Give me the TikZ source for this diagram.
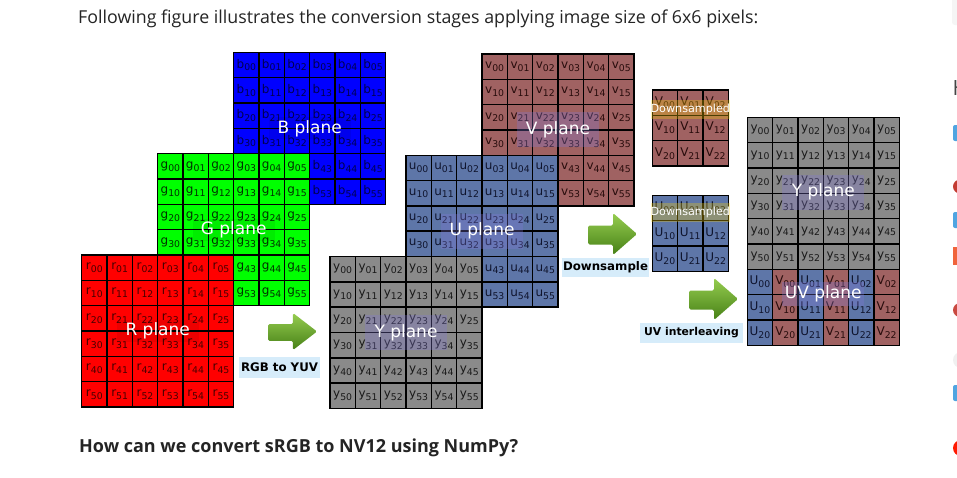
\documentclass[tikz,border=0pt]{standalone}
\usepackage{fontspec}
\setmainfont{DejaVu Sans}
\newfontfamily\webfont{Open Sans}
\usetikzlibrary{shadings}
\definecolor{rcol}{RGB}{255,0,0}
\definecolor{gcol}{RGB}{0,255,0}
\definecolor{bcol}{RGB}{0,0,255}
\definecolor{ycol}{RGB}{138,138,138}
\definecolor{ucol}{RGB}{94,118,168}
\definecolor{vcol}{RGB}{160,98,98}
\definecolor{rtxt}{RGB}{70,0,0}
\definecolor{gtxt}{RGB}{0,50,0}
\definecolor{btxt}{RGB}{0,0,80}
\definecolor{ytxt}{RGB}{25,25,25}
\definecolor{utxt}{RGB}{15,20,45}
\definecolor{vtxt}{RGB}{40,12,12}
\definecolor{lblfill}{RGB}{130,120,215}
\definecolor{lblbg}{RGB}{214,236,250}
\definecolor{webtxt}{RGB}{36,36,36}
\definecolor{arrtop}{RGB}{150,205,80}
\definecolor{arrbot}{RGB}{70,128,22}
\definecolor{uiblue}{RGB}{80,165,225}
\definecolor{uired}{RGB}{195,60,50}
\definecolor{uiorange}{RGB}{240,100,60}
\newcommand{\celltxt}[2]{{\fontsize{12}{12}\selectfont #1}\raisebox{-2.8pt}{\fontsize{9.3}{9.3}\selectfont #2}}
\newcommand{\drawplane}[8]{%
  \foreach \i in {0,...,#5}{\foreach \j in {0,...,#4}{%
    \node[cell, fill=#6, text=#7] (#1\i\j) at ({#2+(\j+0.5)*25.33},{#3+(\i+0.5)*25.33}) {\celltxt{#8}{\i\j}};}}}
\newcommand{\greenarrow}[4]{%
  \shade[top color=arrtop, bottom color=arrbot, rounded corners=1.5pt]
    ({#1},{#2+0.3*#4}) -- ({#1+0.51*#3},{#2+0.3*#4}) -- ({#1+0.51*#3},{#2}) -- ({#1+#3},{#2+0.5*#4})
    -- ({#1+0.51*#3},{#2+#4}) -- ({#1+0.51*#3},{#2+0.75*#4}) -- ({#1},{#2+0.75*#4}) -- cycle;}
\begin{document}
\begin{tikzpicture}[x=1pt,y=-1pt,
  cell/.style={draw=black, line width=1.4pt, minimum width=25.33pt, minimum height=25.33pt, inner sep=0pt, outer sep=0pt},
  plbl/.style={text=white, font=\fontsize{17}{17}\selectfont, fill=lblfill, fill opacity=0.3, text opacity=1, inner sep=0pt, minimum width=82pt, minimum height=#1},
  rgblbl/.style={text=white, font=\fontsize{17}{17}\selectfont, fill=black, fill opacity=0.07, text opacity=1, inner sep=0pt, minimum width=82pt, minimum height=22pt},
  dsband/.style={text=white, font=\fontsize{11.2}{11.2}\selectfont, fill=yellow!70!orange, fill opacity=0.3, text opacity=1, inner sep=0pt, minimum width=76pt, minimum height=19pt},
  steplbl/.style={fill=lblbg, font=\bfseries, text=black, inner sep=0pt}
]
\useasboundingbox (0,0) rectangle (957,477);
\fill[white] (0,0) rectangle (957,477);

% web texts
\node[anchor=base west, font=\webfont\fontsize{17.8}{17.8}\selectfont, text=webtxt, inner sep=0pt] (head) at (78,23) {Following figure illustrates the conversion stages applying image size of 6x6 pixels:};
\node[anchor=base west, font=\webfont\bfseries\fontsize{18}{18}\selectfont, text=webtxt, inner sep=0pt] (quest) at (79,452) {How can we convert sRGB to NV12 using NumPy?};

% RGB planes
\drawplane{B}{233.7}{52.4}{5}{5}{bcol}{btxt}{b}
\drawplane{G}{157.7}{153.7}{5}{5}{gcol}{gtxt}{g}
\drawplane{R}{81.7}{255}{5}{5}{rcol}{rtxt}{r}
\node[rgblbl] (lblB) at (309.7,128.4) {B plane};
\node[rgblbl] (lblG) at (233.7,229.7) {G plane};
\node[rgblbl] (lblR) at (157.7,331) {R plane};

% YUV planes
\drawplane{V}{482}{53.9}{5}{5}{vcol}{vtxt}{v}
\drawplane{U}{406}{155.2}{5}{5}{ucol}{utxt}{u}
\drawplane{Y}{330}{256.5}{5}{5}{ycol}{ytxt}{y}
\node[plbl=35pt] (lblV) at (558,129.9) {V plane};
\node[plbl=35pt] (lblU) at (482,231.2) {U plane};
\node[plbl=35pt] (lblY) at (406,332.5) {Y plane};

% downsampled
\drawplane{DV}{652.3}{90}{2}{2}{vcol}{vtxt}{V}
\drawplane{DU}{652.3}{195.3}{2}{2}{ucol}{utxt}{U}
\node[dsband] (dsV) at (690.3,109) {Downsampled};
\node[dsband] (dsU) at (690.3,212) {Downsampled};

% final NV12
\drawplane{F}{747.3}{117.3}{5}{5}{ycol}{ytxt}{y}
\foreach \i in {0,1,2}{\foreach \k in {0,1,2}{%
  \node[cell, fill=ucol, text=utxt] (FU\i\k) at ({747.3+(2*\k+0.5)*25.33},{269.3+(\i+0.5)*25.33}) {\celltxt{U}{\i\k}};
  \node[cell, fill=vcol, text=vtxt] (FV\i\k) at ({747.3+(2*\k+1.5)*25.33},{269.3+(\i+0.5)*25.33}) {\celltxt{V}{\i\k}};
}}
\node[plbl=35pt] (lblFY) at (823.3,192) {Y plane};
\node[plbl=24pt] (lblFUV) at (823.3,294) {UV plane};

% arrows and step labels
\greenarrow{268}{313}{49}{37}
\greenarrow{588}{213}{49}{42}
\greenarrow{689}{278}{49}{42}
\node[steplbl, minimum width=81pt, minimum height=21pt, font=\bfseries\fontsize{11.8}{11.8}\selectfont] (s1) at (279.5,367.5) {RGB to YUV};
\node[steplbl, minimum width=87pt, minimum height=19pt, font=\bfseries\fontsize{11.8}{11.8}\selectfont] (s2) at (605.5,267.5) {Downsample};
\node[steplbl, minimum width=103pt, minimum height=20pt, font=\bfseries\fontsize{10.8}{10.8}\selectfont] (s3) at (691.5,333) {UV interleaving};

% clipped page UI at the right edge
\fill[gray!8, rounded corners=3pt] (952,-5) rectangle (966,25);
\node[anchor=base west, font=\webfont\fontsize{21}{21}\selectfont, text=webtxt!85, inner sep=0pt] (uiH) at (952.5,95) {H};
\fill[uiblue, rounded corners=2pt] (953,125) rectangle (963,141);
\fill[uired] (960,186.5) circle (7);
\fill[uiblue, rounded corners=2pt] (953,212) rectangle (963,228);
\fill[uiorange] (953,247) rectangle (963,265);
\fill[uired!90!pink] (960,310) circle (7);
\fill[gray!12] (961,360) circle (8);
\fill[uiblue, rounded corners=2pt] (953,385) rectangle (963,401);
\fill[red!80!orange] (961,448) circle (8);
\end{tikzpicture}
\end{document}
